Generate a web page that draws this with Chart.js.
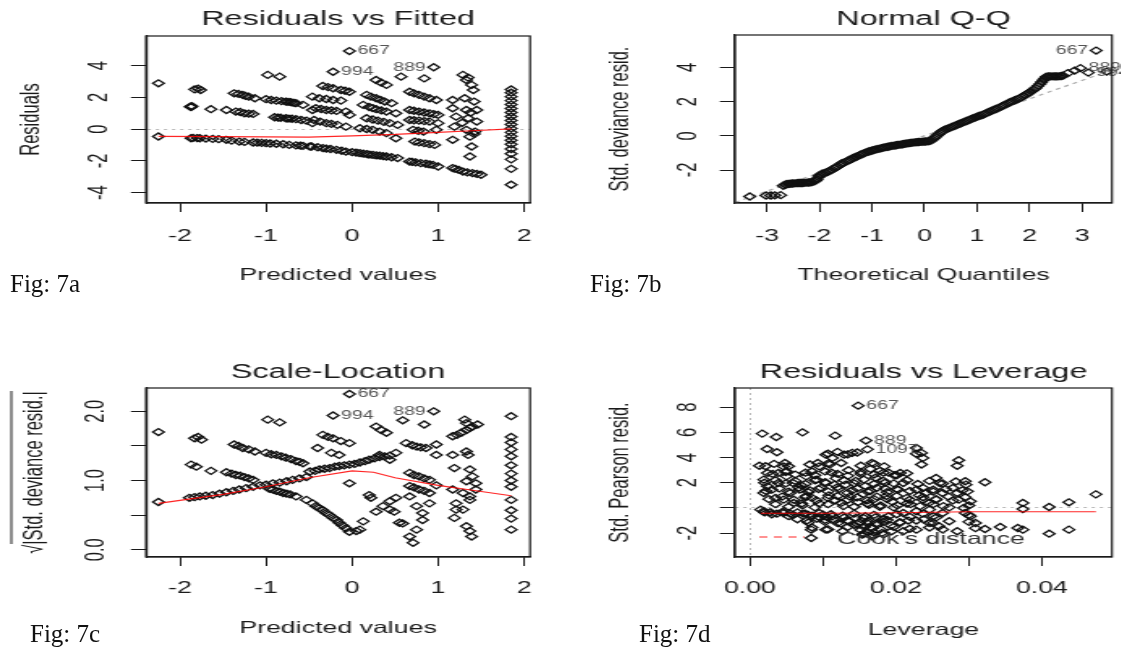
<!DOCTYPE html>
<html>
<head>
<meta charset="utf-8">
<script src="https://cdn.jsdelivr.net/npm/chart.js@4.4.1/dist/chart.umd.min.js"></script>
<style>
  body { margin: 0; background: #fff; width: 1121px; height: 648px; overflow: hidden; position: relative; }
  .panel { position: absolute; transform: scaleX(1.62); transform-origin: 0 0; }
  .fig { position: absolute; font-family: "Liberation Serif", "Times New Roman", serif; font-size: 25px; line-height: 25px; color: #111; white-space: nowrap; }
</style>
</head>
<body>
<div class="panel" style="left:0px;top:0px"><canvas id="fig7a" width="346" height="300"></canvas></div>
<div class="panel" style="left:560px;top:0px"><canvas id="fig7b" width="346" height="300"></canvas></div>
<div class="panel" style="left:0px;top:330px"><canvas id="fig7c" width="346" height="318"></canvas></div>
<div class="panel" style="left:560px;top:330px"><canvas id="fig7d" width="346" height="318"></canvas></div>
<div class="fig" style="left:10px;top:271px">Fig: 7a</div>
<div class="fig" style="left:590px;top:271px">Fig: 7b</div>
<div class="fig" style="left:30px;top:621px">Fig: 7c</div>
<div class="fig" style="left:639px;top:621px">Fig: 7d</div>
<script>
// ---- 7a  residuals vs fitted  [fitted, residual]
var residFitted = [
  [-2.25,2.89],[-2.25,-0.46],[-1.83,2.51],[-1.79,2.55],[-1.76,2.47],[-1.88,1.42],[-1.86,1.45],[-1.87,1.40],
  [-1.64,1.26],[-1.46,1.21],[-1.35,1.11],[-1.30,1.08],[-1.25,1.00],[-1.20,0.98],[-1.15,0.96],
  [-1.87,-0.57],[-1.85,-0.55],[-1.80,-0.56],[-1.77,-0.57],[-1.70,-0.59],[-1.62,-0.61],[-1.55,-0.63],
  [-1.46,-0.67],[-1.40,-0.72],[-1.31,-0.78],[-1.25,-0.80],[-1.15,-0.84],[-1.10,-0.85],[-1.05,-0.86],
  [-1.00,-0.88],[-0.95,-0.90],[-0.88,-0.92],[-0.80,-0.95],[-0.73,-0.99],[-0.65,-1.02],[-0.60,-1.04],
  [-0.57,-1.05],[-0.49,-1.09],
  [-1.37,2.26],[-1.32,2.22],[-1.27,2.16],[-1.24,2.10],[-1.20,2.05],[-1.13,1.95],[-1.00,1.89],[-0.94,1.84],
  [-0.88,1.80],[-0.82,1.77],[-0.77,1.74],[-0.74,1.72],[-0.71,1.70],[-0.68,1.66],[-0.65,1.64],[-0.57,1.53],
  [-0.98,3.42],[-0.84,3.31],
  [-0.90,0.75],[-0.86,0.73],[-0.83,0.72],[-0.77,0.69],[-0.74,0.67],[-0.70,0.66],[-0.65,0.63],[-0.59,0.58],[-0.53,0.54],
  [-0.46,2.05],[-0.46,1.21],[-0.46,0.38],
  [-0.03,4.92],[-0.22,3.62],[0.28,3.10],[0.34,2.93],[0.40,2.79],
  [-0.34,2.72],[-0.28,2.65],[-0.22,2.58],[-0.13,2.47],[-0.08,2.42],[-0.03,2.36],
  [-0.38,1.95],[-0.30,1.90],[-0.22,1.84],[-0.13,1.80],
  [-0.42,1.32],[-0.36,1.27],[-0.30,1.21],[-0.24,1.18],[-0.18,1.15],[-0.07,1.11],[-0.03,0.90],
  [-0.44,0.58],[-0.37,0.48],[-0.30,0.38],[-0.24,0.33],[-0.17,0.27],[-0.07,0.16],
  [-0.47,-1.09],[-0.40,-1.14],[-0.34,-1.19],[-0.30,-1.22],[-0.25,-1.25],[-0.18,-1.30],[-0.12,-1.36],
  [-0.07,-1.41],[0.00,-1.45],[0.05,-1.48],[0.09,-1.51],[0.13,-1.54],[0.17,-1.57],[0.20,-1.60],[0.24,-1.62],
  [0.28,-1.65],[0.32,-1.67],[0.36,-1.70],[0.40,-1.72],[0.46,-1.77],[0.53,-1.82],
  [0.67,-2.04],[0.70,-2.06],[0.74,-2.09],[0.80,-2.14],[0.86,-2.18],[0.90,-2.22],[0.94,-2.25],[1.00,-2.35],
  [1.17,-2.45],[1.20,-2.50],[1.24,-2.56],[1.29,-2.67],[1.34,-2.72],[1.40,-2.77],[1.45,-2.82],[1.50,-2.87],
  [0.17,2.16],[0.22,2.05],[0.28,1.95],[0.33,1.85],[0.38,1.74],[0.46,1.64],
  [0.13,1.53],[0.20,1.40],[0.24,1.33],[0.28,1.26],[0.34,1.18],[0.40,1.11],[0.51,1.00],
  [0.17,0.69],[0.24,0.61],[0.30,0.54],[0.37,0.46],[0.44,0.38],[0.53,0.27],
  [0.09,0.06],[0.17,0.01],[0.24,-0.04],[0.32,-0.15],[0.40,-0.25],[0.51,-0.57],
  [0.57,3.31],[0.84,3.20],[0.95,3.90],
  [0.67,2.36],[0.72,2.26],[0.78,2.16],[0.84,2.05],[0.90,1.95],[0.98,1.84],
  [0.67,1.21],[0.72,1.16],[0.78,1.11],[0.84,1.05],[0.90,1.00],[0.95,0.95],[1.00,0.90],
  [0.67,0.58],[0.72,0.56],[0.78,0.54],[0.84,0.51],[0.90,0.48],[1.00,0.38],
  [0.71,-0.04],[0.77,-0.10],[0.83,-0.15],[0.98,-0.04],
  [0.73,-0.78],[0.78,-0.83],[0.84,-0.88],[0.90,-0.94],[0.96,-0.99],
  [1.29,3.42],[1.35,3.25],[1.33,3.10],[1.39,2.79],[1.41,2.47],[1.17,1.84],[1.31,1.95],[1.42,1.74],
  [1.17,1.32],[1.33,1.21],[1.45,1.21],[1.38,1.05],[1.21,0.79],[1.35,0.69],[1.45,0.48],[1.28,0.40],
  [1.19,0.16],[1.33,-0.04],[1.43,-0.15],[1.17,-0.67],[1.37,-0.47],[1.42,-0.30],[1.39,-1.09],[1.37,-1.72],
  [1.85,2.50],[1.85,2.30],[1.85,2.05],[1.85,1.80],[1.85,1.55],[1.85,1.30],[1.85,1.05],[1.85,0.80],
  [1.85,0.55],[1.85,0.30],[1.85,0.05],[1.85,-0.20],[1.85,-0.45],[1.85,-0.70],[1.85,-0.95],
  [1.85,-1.25],[1.85,-1.55],[1.85,-1.90],[1.85,-2.50],[1.85,-3.50]
];
var residSmooth = [[-2.25,-0.45],[-1.5,-0.47],[-1.0,-0.48],[-0.5,-0.50],[0,-0.42],[0.5,-0.33],[1.0,-0.20],[1.4,-0.10],[1.85,0.02]];
var residIds = ['667','994','889'];
var residIdPts = [[-0.03,4.92],[-0.22,3.62],[0.95,3.90]];
var residIdSide = [1,1,-1];
var fittedTicks = [-2,-1,0,1,2];
var fittedLabels = ['-2','-1','0','1','2'];
var residTicks = [-4,-2,0,2,4];
var residLabels = ['-4','-2','0','2','4'];

// ---- 7b  normal Q-Q  [theoretical, std deviance resid]
var qqPoints = [
  [-3.33,-3.55],[-3.02,-3.49],[-2.93,-3.49],[-2.85,-3.48],[-2.74,-3.47],[-2.69,-2.92],[-2.65,-2.86],
  [-2.62,-2.82],[-2.58,-2.81],[-2.55,-2.80],[-2.51,-2.79],[-2.47,-2.78],[-2.43,-2.77],[-2.40,-2.76],
  [-2.36,-2.76],[-2.33,-2.76],[-2.29,-2.75],[-2.25,-2.74],[-2.21,-2.73],[-2.18,-2.72],[-2.14,-2.70],
  [-2.10,-2.66],[-2.07,-2.61],[-2.05,-2.55],[-2.02,-2.42],[-2.00,-2.32],[-1.97,-2.27],[-1.95,-2.22],
  [-1.91,-2.18],[-1.88,-2.15],[-1.84,-2.10],[-1.80,-2.05],[-1.76,-1.97],[-1.72,-1.90],[-1.68,-1.84],
  [-1.65,-1.78],[-1.61,-1.70],[-1.58,-1.62],[-1.54,-1.57],[-1.50,-1.52],[-1.46,-1.46],[-1.42,-1.40],
  [-1.38,-1.34],[-1.35,-1.28],[-1.31,-1.24],[-1.28,-1.20],[-1.24,-1.14],[-1.20,-1.08],[-1.16,-1.03],
  [-1.12,-0.98],[-1.08,-0.94],[-1.05,-0.90],[-1.01,-0.87],[-0.98,-0.84],[-0.94,-0.81],[-0.90,-0.78],
  [-0.86,-0.75],[-0.82,-0.72],[-0.78,-0.69],[-0.74,-0.66],[-0.70,-0.64],[-0.66,-0.62],[-0.62,-0.59],
  [-0.58,-0.57],[-0.54,-0.55],[-0.50,-0.53],[-0.46,-0.51],[-0.42,-0.49],[-0.38,-0.47],[-0.34,-0.45],
  [-0.30,-0.43],[-0.26,-0.41],[-0.22,-0.40],[-0.18,-0.38],[-0.14,-0.37],[-0.10,-0.36],[-0.06,-0.35],
  [-0.02,-0.34],[0.02,-0.33],[0.06,-0.32],[0.09,-0.30],[0.12,-0.28],[0.15,-0.22],[0.18,-0.14],
  [0.21,-0.06],[0.24,0.02],[0.27,0.10],[0.30,0.18],[0.33,0.26],[0.36,0.32],[0.40,0.37],[0.44,0.42],
  [0.48,0.47],[0.52,0.52],[0.56,0.57],[0.60,0.62],[0.64,0.67],[0.68,0.72],[0.72,0.77],[0.76,0.82],
  [0.80,0.87],[0.84,0.92],[0.88,0.97],[0.92,1.02],[0.96,1.07],[1.00,1.12],[1.04,1.16],[1.08,1.20],
  [1.12,1.25],[1.16,1.30],[1.20,1.36],[1.24,1.42],[1.28,1.47],[1.32,1.52],[1.36,1.57],[1.40,1.62],
  [1.44,1.68],[1.48,1.74],[1.52,1.80],[1.56,1.86],[1.60,1.92],[1.64,1.98],[1.68,2.03],[1.72,2.08],
  [1.76,2.13],[1.80,2.18],[1.84,2.25],[1.88,2.32],[1.92,2.39],[1.96,2.46],[2.00,2.54],[2.04,2.62],
  [2.08,2.71],[2.12,2.80],[2.16,2.92],[2.20,3.04],[2.23,3.15],[2.26,3.26],[2.29,3.36],[2.32,3.46],
  [2.36,3.47],[2.40,3.48],[2.44,3.48],[2.48,3.48],[2.52,3.48],[2.56,3.48],[2.60,3.50],[2.64,3.52],
  [2.73,3.67],[2.86,3.82],[2.97,3.96],[3.12,3.70],[3.27,4.99],[3.47,3.76]
];
var qqLine = [[-3.61,-3.90],[3.57,3.86]];
var qqIds = ['667','889','994'];
var qqIdPts = [[3.27,4.99],[2.97,3.96],[3.12,3.70]];
var qqIdSide = [-1,1,1];
var quantTicks = [-3,-2,-1,0,1,2,3];
var quantLabels = ['-3','-2','-1','0','1','2','3'];
var qqYTicks = [-2,0,2,4];
var qqYLabels = ['-2','0','2','4'];

// ---- 7c  scale-location  [fitted, sqrt |std deviance resid|]
var scaleLoc = [
  [-2.25,1.70],[-2.25,0.69],[-1.83,1.61],[-1.75,1.59],[-1.79,1.63],[-1.87,1.23],[-1.81,1.20],
  [-1.64,1.14],[-1.46,1.12],[-1.40,1.10],[-1.35,1.08],[-1.30,1.07],[-1.25,1.05],[-1.20,1.03],[-1.15,1.01],
  [-1.89,0.75],[-1.83,0.76],[-1.77,0.77],[-1.70,0.78],[-1.62,0.79],[-1.54,0.81],[-1.46,0.83],[-1.38,0.85],
  [-1.31,0.87],[-1.23,0.89],[-1.15,0.91],[-1.07,0.93],[-1.00,0.94],[-0.92,0.96],[-0.84,0.97],[-0.76,0.99],
  [-0.69,1.01],[-0.61,1.03],[-0.53,1.05],
  [-0.98,1.88],[-0.84,1.84],
  [-1.37,1.52],[-1.32,1.50],[-1.27,1.47],[-1.20,1.45],[-1.13,1.42],[-1.00,1.40],[-0.94,1.38],[-0.88,1.37],
  [-0.82,1.35],[-0.77,1.33],[-0.71,1.31],[-0.65,1.28],[-0.61,1.27],[-0.57,1.25],
  [-0.96,0.88],[-0.92,0.87],[-0.88,0.85],[-0.84,0.84],[-0.80,0.82],[-0.76,0.81],[-0.72,0.80],[-0.65,0.77],[-0.53,0.72],
  [-0.03,2.25],[-0.22,1.94],[0.95,2.00],[0.59,1.87],[0.84,1.81],[0.28,1.78],[0.34,1.73],[0.40,1.69],
  [-0.34,1.66],[-0.28,1.63],[-0.22,1.61],[-0.13,1.57],[-0.03,1.54],[-0.40,1.47],[-0.24,1.40],[-0.15,1.37],
  [-0.49,1.13],[-0.43,1.14],[-0.38,1.16],[-0.32,1.17],[-0.26,1.18],[-0.20,1.20],[-0.15,1.21],[-0.09,1.22],
  [-0.03,1.23],[0.03,1.24],[0.09,1.26],[0.15,1.28],[0.20,1.30],[0.26,1.32],[0.32,1.34],[0.38,1.35],[0.44,1.36],
  [-0.03,0.96],
  [-0.46,0.67],[-0.42,0.63],[-0.38,0.60],[-0.34,0.57],[-0.30,0.53],[-0.26,0.50],[-0.22,0.46],[-0.18,0.43],
  [-0.15,0.39],[-0.11,0.35],[-0.07,0.31],[-0.03,0.26],[0.05,0.27],
  [0.09,0.29],[0.13,0.41],[0.20,0.79],[0.22,0.75],[0.28,0.55],[0.36,0.63],[0.44,0.70],[0.51,0.75],
  [0.44,0.58],[0.49,0.55],[0.55,0.39],[0.59,0.38],[0.32,1.37],[0.44,1.30],[0.51,1.40],
  [0.63,1.54],[0.70,1.51],[0.75,1.49],[0.80,1.48],[0.86,1.47],[0.98,1.52],
  [0.67,1.11],[0.72,1.08],[0.78,1.06],[0.84,1.03],[0.90,1.01],[0.98,0.93],
  [0.67,0.92],[0.72,0.90],[0.78,0.87],[0.84,0.85],[0.90,0.82],[0.67,0.77],[0.75,0.63],[0.82,0.53],[0.90,0.67],
  [0.67,0.19],[0.71,0.10],[0.75,0.29],[0.82,0.43],[0.98,1.37],
  [1.17,1.37],[1.19,1.18],[1.17,0.87],[1.21,0.58],[1.19,0.46],
  [1.17,1.64],[1.22,1.66],[1.27,1.69],[1.33,1.73],[1.37,1.76],[1.40,1.78],[1.46,1.81],[1.31,1.88],[1.33,1.83],
  [1.33,1.42],[1.35,1.37],
  [1.37,1.16],[1.40,1.06],[1.44,0.96],[1.33,0.99],[1.29,0.82],[1.37,0.77],[1.44,0.87],
  [1.21,0.67],[1.29,0.58],[1.37,0.72],[1.33,0.34],[1.37,0.27],[1.39,0.19],
  [1.85,1.93],[1.85,1.63],[1.85,1.55],[1.85,1.45],[1.85,1.35],[1.85,1.22],[1.85,1.10],[1.85,1.00],
  [1.85,0.91],[1.85,0.72],[1.85,0.57],[1.85,0.45],[1.85,0.29]
];
var scaleSmooth = [[-2.25,0.67],[-1.5,0.80],[-1.0,0.91],[-0.5,1.04],[0,1.14],[0.25,1.12],[0.5,1.04],[1.0,0.93],[1.4,0.86],[1.85,0.78]];
var scaleIds = ['667','994','889'];
var scaleIdPts = [[-0.03,2.25],[-0.22,1.94],[0.95,2.00]];
var scaleIdSide = [1,1,-1];
var sqrtTicks = [0,0.5,1,1.5,2];
var sqrtLabels = ['0.0','','1.0','','2.0'];

// ---- 7d  residuals vs leverage  [leverage, std pearson resid]
var levPoints = [
  [0.01483,8.12],[0.00168,5.90],[0.00361,5.63],[0.0072,6.00],[0.01168,5.74],[0.0159,5.35],[0.0161,4.65],
  [0.00235,4.68],[0.0037,4.42],[0.00213,3.31],[0.0048,3.57],[0.0053,3.31],[0.0050,2.91],
  [0.0104,4.23],[0.0113,3.97],[0.0129,4.23],[0.0140,4.37],[0.0093,3.57],[0.0109,3.44],[0.0125,3.57],[0.0167,3.57],
  [0.0228,4.76],[0.0235,4.37],[0.0237,3.97],[0.0286,3.79],
  [0.0295,2.12],[0.0322,2.04],[0.0255,2.38],[0.0260,1.98],[0.0251,1.45],[0.0206,2.78],[0.0210,1.98],[0.0203,1.45],
  [0.0228,1.45],[0.0241,1.19],[0.0264,1.19],[0.0237,0.66],[0.0255,0.66],
  [0.0278,1.59],[0.0284,1.19],[0.0286,0.66],[0.0298,1.32],[0.0302,0.53],
  [0.0374,0.40],[0.0374,-0.08],[0.0410,0.08],[0.0437,0.45],[0.0474,1.08],
  [0.0374,-1.72],[0.0367,-1.59],[0.0410,-2.04],[0.0437,-1.72],[0.0343,-1.51],
  [0.0322,-1.67],[0.0309,-1.19],[0.0302,-0.66],[0.0295,-0.40],[0.0293,0.00],[0.0284,-1.85],
  [0.0246,-1.19],[0.0259,-1.45],[0.0228,-1.72],[0.0210,-1.85],[0.0251,-0.66],
  [0.0228,-0.26],[0.0246,-0.13],[0.0264,-0.40],[0.0210,-0.40],
  [0.00146,-0.13],[0.00191,-0.26],[0.0020,-0.35],[0.0028,-0.34],[0.0030,-0.50],[0.0037,-0.45],[0.0045,-0.30],
  [0.0046,-0.40],[0.0055,-0.45],[0.0059,-0.53],[0.0065,-0.35],[0.0073,-0.45],[0.0080,-0.55],[0.0086,-0.61],
  [0.0095,-0.40],[0.0100,-0.53],[0.0105,-0.70],[0.0113,-0.66],[0.0127,-0.61],[0.0145,-0.79],[0.0158,-0.66],
  [0.0172,-0.74],[0.0190,-0.66],
  [0.0019,2.25],[0.0024,1.72],[0.0019,1.19],[0.0030,1.45],[0.0035,0.79],[0.0039,1.98],[0.0024,2.78],
  [0.0039,2.78],[0.0050,2.51],[0.0059,1.98],[0.0068,1.45],[0.0077,0.93],[0.0055,1.19],[0.0046,0.66],
  [0.0107,4.30],[0.0120,4.45],[0.0134,4.25],[0.0147,4.40],[0.0228,4.30],
  [0.0013,3.35],[0.0033,3.50],[0.0046,3.30],[0.0082,3.45],[0.0095,3.30],[0.0108,3.55],[0.0152,3.35],
  [0.0170,3.50],[0.0184,3.30],[0.0235,3.45],[0.0284,3.35],
  [0.0031,2.70],[0.0049,2.85],[0.0062,2.65],[0.0076,2.80],[0.0089,2.60],[0.0103,2.90],[0.0120,2.70],
  [0.0134,2.55],[0.0152,2.85],[0.0170,2.65],[0.0183,2.80],[0.0201,2.60],[0.0215,2.75],
  [0.0020,2.00],[0.0035,2.20],[0.0049,1.95],[0.0062,2.15],[0.0076,1.90],[0.0089,2.20],[0.0103,2.05],
  [0.0116,1.85],[0.0129,2.20],[0.0143,1.95],[0.0156,2.25],[0.0170,1.90],[0.0183,2.15],[0.0197,1.95],
  [0.0215,2.20],[0.0230,1.90],[0.0246,2.15],[0.0264,1.95],[0.0282,2.10],[0.0296,1.85],
  [0.0022,1.35],[0.0040,1.55],[0.0053,1.30],[0.0067,1.60],[0.0080,1.25],[0.0094,1.50],[0.0107,1.30],
  [0.0120,1.65],[0.0134,1.20],[0.0147,1.55],[0.0161,1.30],[0.0174,1.60],[0.0188,1.25],[0.0201,1.50],
  [0.0219,1.35],[0.0237,1.60],[0.0251,1.30],[0.0268,1.50],[0.0291,1.40],
  [0.0026,0.70],[0.0044,0.90],[0.0060,0.65],[0.0076,0.85],[0.0091,0.60],[0.0107,0.80],[0.0120,0.95],
  [0.0134,0.65],[0.0147,0.85],[0.0161,0.60],[0.0174,0.90],[0.0188,0.70],[0.0201,0.95],[0.0219,0.65],
  [0.0237,0.85],[0.0255,0.70],[0.0278,0.60],[0.0295,0.85],
  [0.0035,0.30],[0.0053,0.10],[0.0071,0.35],[0.0089,0.05],[0.0107,0.30],[0.0125,0.40],[0.0143,0.10],
  [0.0161,0.35],[0.0179,0.20],[0.0197,0.05],[0.0215,0.35],[0.0233,0.15],[0.0251,0.30],[0.0273,0.05],[0.0300,0.20],
  [0.0053,-0.65],[0.0076,-0.45],[0.0094,-0.70],[0.0111,-0.50],[0.0129,-0.75],[0.0143,-0.45],[0.0156,-0.80],
  [0.0170,-0.55],[0.0183,-0.85],[0.0201,-0.50],[0.0219,-0.70],[0.0237,-0.45],[0.0255,-0.75],[0.0300,-0.55],
  [0.0080,-1.15],[0.0103,-0.95],[0.0120,-1.20],[0.0134,-1.00],[0.0147,-1.25],[0.0161,-1.05],[0.0174,-1.20],
  [0.0188,-0.95],[0.0206,-1.15],[0.0228,-1.00],[0.0251,-1.20],[0.0273,-1.05],[0.0300,-1.10],
  [0.0085,-1.55],[0.0107,-1.70],[0.0134,-1.50],[0.0152,-1.75],[0.0165,-1.55],[0.0179,-1.70],[0.0197,-1.50],
  [0.0219,-1.65],[0.0246,-1.55],[0.0264,-1.70],[0.0309,-1.60],
  [0.0156,-2.05],[0.0170,-2.20],[0.0183,-2.10],
  [0.0077,2.51],[0.0091,2.25],[0.0104,1.98],[0.0118,2.35],[0.0131,1.85],[0.0145,2.15],[0.0158,1.75],
  [0.0172,2.40],[0.0185,2.00],[0.0198,2.60],[0.0085,2.90],[0.0112,2.80],[0.0135,3.00],[0.0152,2.70],
  [0.0178,2.95],[0.0165,3.10],[0.0190,2.80],[0.0097,1.60],[0.0122,1.50],[0.0140,1.40],[0.0165,1.35],
  [0.0185,1.55],[0.0070,1.80],[0.0082,1.40],
  [0.0060,0.40],[0.0072,0.20],[0.0085,0.80],[0.0095,0.35],[0.0108,1.00],[0.0117,0.60],[0.0128,0.15],
  [0.0137,0.90],[0.0148,0.45],[0.0155,1.10],[0.0163,0.25],[0.0170,0.70],[0.0178,0.10],[0.0187,0.95],
  [0.0195,0.50],[0.0202,0.20],[0.0215,0.80],[0.0220,0.30],[0.0232,1.00],[0.0245,0.40],[0.0265,0.15],[0.0272,0.90],
  [0.0065,-0.90],[0.0078,-1.00],[0.0092,-0.85],[0.0103,-1.10],[0.0115,-0.95],[0.0125,-1.25],[0.0135,-1.05],
  [0.0143,-1.35],[0.0150,-1.15],[0.0157,-1.50],[0.0162,-1.25],[0.0168,-1.60],[0.0175,-1.30],[0.0182,-1.10],
  [0.0193,-1.40],[0.0205,-1.15],[0.0217,-1.00],[0.0238,-0.90],
  [0.0084,-2.38],[0.0084,-1.72],[0.0104,-1.72],[0.0127,-1.85],[0.0154,-2.12],[0.0167,-2.25],[0.0181,-1.98],
  [0.0194,-1.85],[0.0160,-1.90],[0.0170,-1.95]
];
var levSmooth = [[0.0015,-0.42],[0.010,-0.42],[0.020,-0.38],[0.030,-0.30],[0.0474,-0.30]];
var levIds = ['667','889','1097'];
var levIdPts = [[0.01483,8.12],[0.0159,5.35],[0.0161,4.65]];
var levIdSide = [1,1,1];
var levTicks = [0,0.01,0.02,0.03,0.04];
var levLabels = ['0.00','','0.02','','0.04'];
var pearsonTicks = [-2,0,2,4,6,8];
var pearsonLabels = ['-2','','2','4','6','8'];

var FONT = "'Liberation Sans', Arial, sans-serif";
var INK = '#1a1a1a';

function xy(pairs) {
  return pairs.map(function (d) { return { x: d[0], y: d[1] }; });
}

// box round the plot region, point ids, extras
function decorPlugin(p) {
  return {
    id: 'decor',
    afterDatasetsDraw: function (chart) {
      var ctx = chart.ctx, xs = chart.scales.x, ys = chart.scales.y;
      ctx.save();
      ctx.font = '12px ' + FONT;
      ctx.fillStyle = '#555';
      ctx.textBaseline = 'middle';
      p.ids.forEach(function (id, i) {
        var px = xs.getPixelForValue(p.idPts[i][0]);
        var py = ys.getPixelForValue(p.idPts[i][1]);
        ctx.textAlign = p.idSide[i] > 0 ? 'left' : 'right';
        ctx.fillText(id, px + p.idSide[i] * 5, py);
      });
      ctx.restore();
    },
    afterDraw: function (chart) {
      var a = chart.chartArea, ctx = chart.ctx;
      ctx.save();
      ctx.strokeStyle = INK;
      ctx.lineWidth = 1.2;
      ctx.strokeRect(a.left, a.top, a.right - a.left, a.bottom - a.top);
      if (p.overbar) {
        ctx.lineWidth = 1;
        ctx.beginPath();
        ctx.moveTo(7, a.top + 3);
        ctx.lineTo(7, a.bottom - 13);
        ctx.stroke();
      }
      if (p.cook) {
        ctx.strokeStyle = 'rgba(255,0,0,0.85)';
        ctx.setLineDash([5, 4]);
        ctx.beginPath();
        ctx.moveTo(a.left + 15, a.bottom - 20);
        ctx.lineTo(a.left + 43, a.bottom - 20);
        ctx.stroke();
        ctx.setLineDash([]);
        ctx.fillStyle = '#333';
        ctx.font = '16.5px ' + FONT;
        ctx.textBaseline = 'middle';
        ctx.textAlign = 'left';
        ctx.fillText("Cook's distance", a.left + 63, a.bottom - 18);
      }
      ctx.restore();
    }
  };
}

function gridFor(zeroLine, len) {
  return {
    drawOnChartArea: !!zeroLine,
    color: function (c) { return c.tick && c.tick.value === 0 ? '#b8b8b8' : 'rgba(0,0,0,0)'; },
    tickColor: INK,
    tickLength: len,
    lineWidth: 1
  };
}

function makePanel(id, p) {
  var datasets = [];
  if (p.smooth) {
    datasets.push({ data: xy(p.smooth), showLine: true, borderColor: 'rgba(255,0,0,0.85)', borderWidth: 1.2, pointRadius: 0 });
  }
  datasets.push({ data: xy(p.points), pointStyle: 'rectRot', pointRadius: 3.5, borderColor: '#111', borderWidth: 1.3, backgroundColor: 'rgba(0,0,0,0)' });
  if (p.refLine) {
    datasets.push({ data: xy(p.refLine), showLine: true, borderColor: '#aaa', borderDash: [3, 3], borderWidth: 1.2, pointRadius: 0 });
  }
  var tickFont = { size: 16.5, family: FONT };

  new Chart(document.getElementById(id), {
    type: 'scatter',
    data: { datasets: datasets },
    plugins: [decorPlugin(p)],
    options: {
      responsive: false,
      animation: false,
      devicePixelRatio: 1,
      layout: { padding: { left: 0, right: p.rightPad, top: 0, bottom: 0 } },
      plugins: {
        legend: { display: false },
        tooltip: { enabled: false },
        title: {
          display: true, text: p.title, fullSize: false, color: INK,
          font: { size: 20, family: FONT, weight: 'normal' },
          padding: { top: p.titleTop, bottom: p.titleBottom }
        }
      },
      scales: {
        x: {
          type: 'linear', min: p.xMin, max: p.xMax,
          afterBuildTicks: function (s) { s.ticks = p.xTicks.map(function (v) { return { value: v }; }); },
          afterFit: function (s) { s.height = p.bottomH; },
          grid: gridFor(p.zeroX, 9),
          border: { display: true, color: INK, width: 1.2, dash: [2, 3] },
          ticks: {
            autoSkip: false, minRotation: 0, maxRotation: 0, padding: p.xTickPad, color: INK, font: tickFont,
            callback: function (v, i) { return p.xLabels[i]; }
          },
          title: { display: true, text: p.xTitle, color: INK, font: tickFont, padding: { top: 0, bottom: p.xTitlePad } }
        },
        y: {
          type: 'linear', min: p.yMin, max: p.yMax,
          afterBuildTicks: function (s) { s.ticks = p.yTicks.map(function (v) { return { value: v }; }); },
          afterFit: function (s) { s.width = p.leftW; },
          grid: gridFor(p.zeroY, 9.3),
          border: { display: true, color: INK, width: 1.2, dash: [2, 3] },
          ticks: {
            autoSkip: false, minRotation: 90, maxRotation: 90, crossAlign: 'center', padding: p.yTickPad,
            color: INK, font: tickFont,
            callback: function (v, i) { return p.yLabels[i]; }
          },
          title: { display: true, text: p.yTitle, color: INK, font: tickFont, padding: { top: p.yTitlePad, bottom: 0 } }
        }
      }
    }
  });
}

makePanel('fig7a', {
  title: 'Residuals vs Fitted', xTitle: 'Predicted values', yTitle: 'Residuals',
  points: residFitted, smooth: residSmooth,
  ids: residIds, idPts: residIdPts, idSide: residIdSide,
  xTicks: fittedTicks, xLabels: fittedLabels, yTicks: residTicks, yLabels: residLabels,
  xMin: -2.395, xMax: 2.07, yMin: -4.65, yMax: 5.87, zeroY: true,
  leftW: 90.1, rightPad: 18.8, bottomH: 97, titleTop: 7.5, titleBottom: 4.5,
  yTickPad: 12.4, yTitlePad: 9.2, xTickPad: 14.1, xTitlePad: 15.1
});

makePanel('fig7b', {
  title: 'Normal Q-Q', xTitle: 'Theoretical Quantiles', yTitle: 'Std. deviance resid.',
  points: qqPoints, refLine: qqLine,
  ids: qqIds, idPts: qqIdPts, idSide: qqIdSide,
  xTicks: quantTicks, xLabels: quantLabels, yTicks: qqYTicks, yLabels: qqYLabels,
  xMin: -3.61, xMax: 3.57, yMin: -3.93, yMax: 5.9,
  leftW: 108, rightPad: 0.9, bottomH: 97, titleTop: 7.5, titleBottom: 3.5,
  yTickPad: 11.8, yTitlePad: 27.8, xTickPad: 14.1, xTitlePad: 15.1
});

makePanel('fig7c', {
  title: 'Scale-Location', xTitle: 'Predicted values', yTitle: '\u221A|Std. deviance resid.|',
  points: scaleLoc, smooth: scaleSmooth, overbar: true,
  ids: scaleIds, idPts: scaleIdPts, idSide: scaleIdSide,
  xTicks: fittedTicks, xLabels: fittedLabels, yTicks: sqrtTicks, yLabels: sqrtLabels,
  xMin: -2.395, xMax: 2.07, yMin: -0.105, yMax: 2.337,
  leftW: 90.1, rightPad: 18.8, bottomH: 91, titleTop: 30, titleBottom: 4,
  yTickPad: 10.0, yTitlePad: 11.1, xTickPad: 12.1, xTitlePad: 10.1
});

makePanel('fig7d', {
  title: 'Residuals vs Leverage', xTitle: 'Leverage', yTitle: 'Std. Pearson resid.',
  points: levPoints, smooth: levSmooth, cook: true,
  ids: levIds, idPts: levIdPts, idSide: levIdSide,
  xTicks: levTicks, xLabels: levLabels, yTicks: pearsonTicks, yLabels: pearsonLabels,
  xMin: -0.00205, xMax: 0.0496, yMin: -3.89, yMax: 9.52, zeroX: true, zeroY: true,
  leftW: 108, rightPad: 0.9, bottomH: 91, titleTop: 30, titleBottom: 4,
  yTickPad: 11.8, yTitlePad: 27.8, xTickPad: 12.1, xTitlePad: 8.1
});
</script>
</body>
</html>
